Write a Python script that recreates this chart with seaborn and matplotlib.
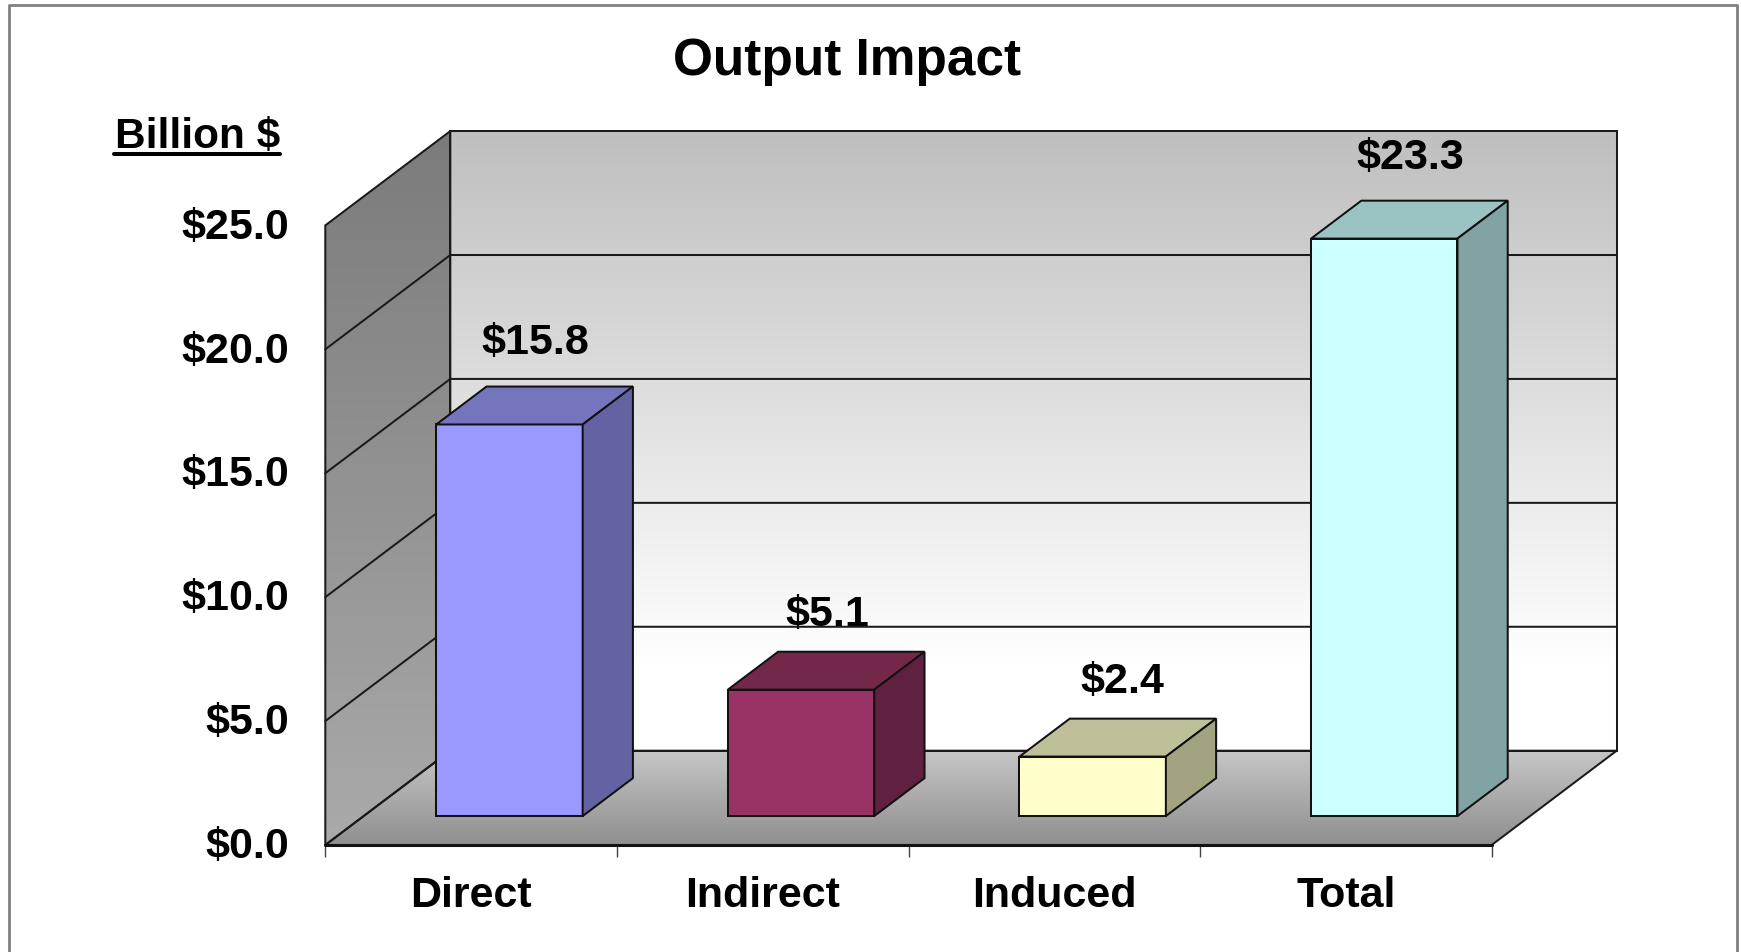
import numpy as np
import pandas as pd
import matplotlib
matplotlib.use('Agg')
import matplotlib.pyplot as plt
import matplotlib.colors as mcolors
from matplotlib.lines import Line2D
from matplotlib.patches import Polygon
from matplotlib.transforms import ScaledTranslation
import seaborn as sns

categories = ['Direct', 'Indirect', 'Induced', 'Total']
values = [15.8, 5.1, 2.4, 23.3]
y_ticks = [0, 5, 10, 15, 20, 25]

front_colors = ['#9999FF', '#993366', '#FFFFCC', '#CCFFFF']
top_colors = ['#7575BD', '#732849', '#BFBF9A', '#9CC3C3']
side_colors = ['#6363A3', '#602040', '#A3A382', '#82A3A3']

W, H = 1741, 952

# where the front plane of the box sits, in pixels
LEFT, RIGHT, TOP, BOTTOM = 325.3, 1491.7, 225.4, 845

# depth of the whole box, in data units
WALL_DX = 125 / 291.6
WALL_DY = 94.3 / 24.78
# bars start and end part way into the box
BAR_FRONT = 0.307
BAR_BACK = 0.709

LINE = '#111111'
LW = 1.45

sns.set_style('white')
plt.rcParams['font.family'] = ['Liberation Sans', 'DejaVu Sans']
plt.rcParams['font.weight'] = 'bold'
plt.rcParams['text.color'] = 'black'
plt.rcParams['xtick.labelcolor'] = 'black'
plt.rcParams['ytick.labelcolor'] = 'black'

fig = plt.figure(figsize=(W / 100, H / 100), dpi=100)
ax = fig.add_axes([LEFT / W, 1 - BOTTOM / H, (RIGHT - LEFT) / W, (BOTTOM - TOP) / H])

df = pd.DataFrame({'category': categories, 'value': values})
sns.barplot(data=df, x='category', y='value', hue='category', palette=front_colors,
            saturation=1, width=0.502, edgecolor=LINE, linewidth=LW,
            legend=False, ax=ax, zorder=3)

x0, x1 = -0.5, 3.5
ymax = 25


def gradient(points, colors, zorder=0.5):
    # vertical colour gradient clipped to a polygon
    cmap = mcolors.LinearSegmentedColormap.from_list('g', colors)
    pts = np.array(points)
    img = cmap(np.linspace(0, 1, 256))[:, np.newaxis, :3]
    im = ax.imshow(img, aspect='auto', origin='upper', zorder=zorder,
                   extent=[pts[:, 0].min(), pts[:, 0].max(), pts[:, 1].min(), pts[:, 1].max()])
    poly = Polygon(points, closed=True, transform=ax.transData)
    im.set_clip_box(fig.bbox)
    im.set_clip_path(poly)


back_wall = [(x0 + WALL_DX, WALL_DY), (x1 + WALL_DX, WALL_DY),
             (x1 + WALL_DX, ymax + WALL_DY), (x0 + WALL_DX, ymax + WALL_DY)]
side_wall = [(x0, 0), (x0 + WALL_DX, WALL_DY), (x0 + WALL_DX, ymax + WALL_DY), (x0, ymax)]
floor = [(x0, 0), (x1, 0), (x1 + WALL_DX, WALL_DY), (x0 + WALL_DX, WALL_DY)]

gradient(back_wall, [(0, '#BFBFBF'), (0.86, '#FFFFFF'), (1, '#FFFFFF')])
gradient(side_wall, ['#7B7B7B', '#AAAAAA'])
gradient(floor, ['#C6C6C6', '#8F8F8F'], zorder=0.6)

ax.set_xlim(x0, x1)
ax.set_ylim(0, ymax)

# wall outlines
for pts in [back_wall, side_wall, floor]:
    ax.add_patch(Polygon(pts, closed=True, fill=False, edgecolor='#1A1A1A',
                         linewidth=LW, clip_on=False, zorder=2))
ax.plot([x0, x1], [0, 0], color=LINE, linewidth=2.2, clip_on=False, zorder=2)

# gridlines run along the side wall and then the back wall
for v in y_ticks[1:-1]:
    ax.plot([x0, x0 + WALL_DX, x1 + WALL_DX], [v, v + WALL_DY, v + WALL_DY],
            color='#1A1A1A', linewidth=LW, clip_on=False, zorder=2)

# turn the flat bars into boxes
for bar, val, tc, sc in zip(ax.patches, values, top_colors, side_colors):
    left = bar.get_x() + BAR_FRONT * WALL_DX
    base = BAR_FRONT * WALL_DY
    bar.set_x(left)
    bar.set_y(base)
    bar.set_clip_on(False)
    right = left + bar.get_width()
    top = base + val
    ddx = (BAR_BACK - BAR_FRONT) * WALL_DX
    ddy = (BAR_BACK - BAR_FRONT) * WALL_DY
    ax.add_patch(Polygon([(left, top), (right, top), (right + ddx, top + ddy), (left + ddx, top + ddy)],
                         closed=True, facecolor=tc, edgecolor=LINE, linewidth=LW,
                         clip_on=False, zorder=3))
    ax.add_patch(Polygon([(right, base), (right + ddx, base + ddy), (right + ddx, top + ddy), (right, top)],
                         closed=True, facecolor=sc, edgecolor=LINE, linewidth=LW,
                         clip_on=False, zorder=3))
    lift = 3.27 if val > 10 else 3.02
    nudge = 0.014 if val < 3 else 0.004
    ax.text(left + bar.get_width() / 2 + ddx / 2 + nudge, top + lift, f'${val:.1f}',
            ha='center', va='center', fontsize=31, fontweight='bold', color='black', zorder=1.5)

# axes
sns.despine(ax=ax, left=True, bottom=True, top=True, right=True)
ax.set_xlabel('')
ax.set_ylabel('')
ax.set_yticks(y_ticks)
ax.set_yticklabels([f'${v:.1f}' for v in y_ticks], fontsize=31, fontweight='bold', color='black')
ax.set_xticks(range(len(categories)))
ax.set_xticklabels(categories, fontsize=31, fontweight='bold', color='black')
ax.set_xticks(np.arange(x0, x1 + 1), minor=True)
ax.tick_params(axis='y', length=0, pad=25.7)
ax.tick_params(axis='x', which='major', length=0, pad=22)
ax.tick_params(axis='x', which='minor', bottom=True, length=8.5, width=1.0, color='#444444')

# y labels sit a touch higher than the tick positions
up = ScaledTranslation(0, 2.3 / 100, fig.dpi_scale_trans)
for label in ax.get_yticklabels():
    label.set_transform(label.get_transform() + up)

fig.text(846.6 / W, 1 - 61.5 / H, 'Output Impact', ha='center', va='center',
         fontsize=37, fontweight='bold', color='black')
fig.text(114.5 / W, 1 - 147.7 / H, 'Billion $', ha='left', va='baseline',
         fontsize=30.5, fontweight='bold', color='black')
fig.add_artist(Line2D([114 / W, 280 / W], [1 - 154.3 / H, 1 - 154.3 / H], color='black', linewidth=2.9))

# grey frame, open at the bottom
fig.add_artist(Line2D([8.5 / W, 8.5 / W, 1737 / W, 1737 / W],
                      [0, 1 - 5 / H, 1 - 5 / H, 0], color='#808080', linewidth=2.0))

fig.savefig('out.png', dpi=100)
